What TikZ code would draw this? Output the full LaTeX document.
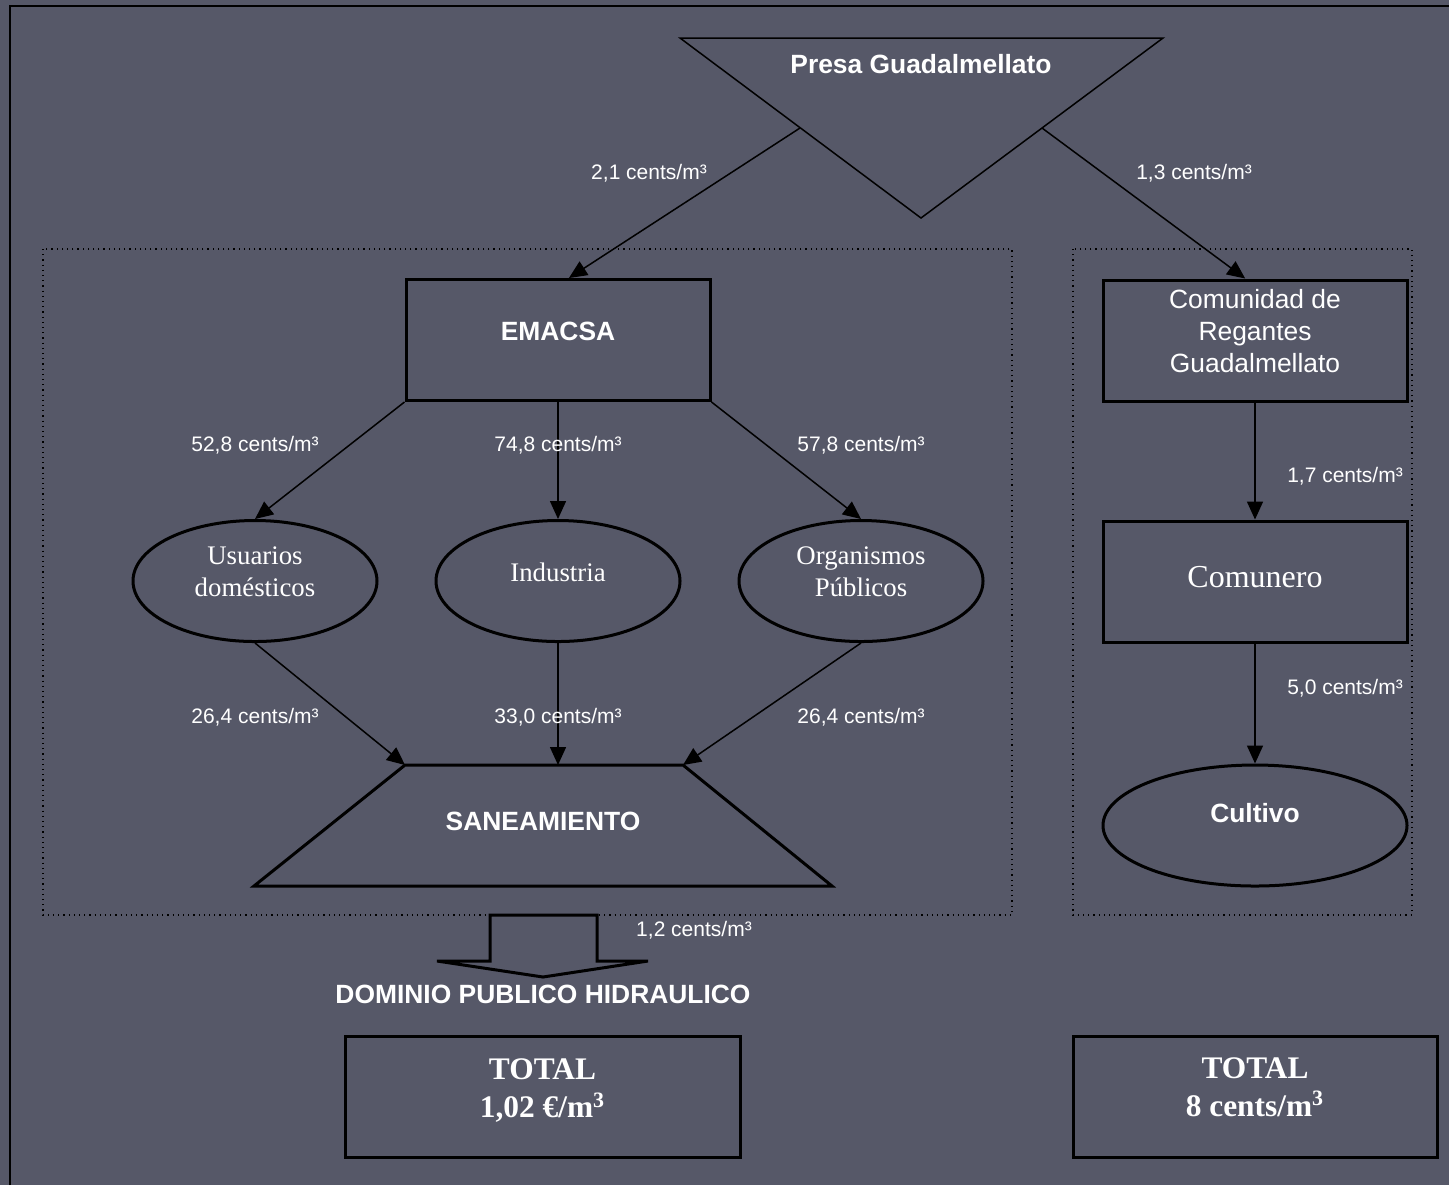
\documentclass[tikz,border=0pt]{standalone}
\usepackage{fontspec}
\setmainfont{Liberation Serif}
\setsansfont{Liberation Sans}
\usetikzlibrary{shapes.geometric,arrows.meta}
\definecolor{slidebg}{RGB}{86,88,104}

\begin{document}
\begin{tikzpicture}
[x=0.5pt,y=-0.5pt,
  boxdecorate/.style={shape=rectangle,draw,line width=1.5pt,inner sep=0pt,minimum height=60.5pt},%
  ellipsedecorate/.style={shape=ellipse,draw,line width=1.5pt,inner sep=0pt,minimum height=60.5pt},%
  linedecorate/.style={-{Triangle[length=9pt,width=8pt]},line width=0.75pt},%
  costlabel/.style={text=white,font=\sffamily\fontsize{10.5}{12}\selectfont},%
  sanstitle/.style={text=white,font=\sffamily\bfseries\fontsize{13.2}{16}\selectfont},%
  sanstext/.style={text=white,align=center,font=\sffamily\fontsize{13.2}{16}\selectfont},%
  seriftext/.style={text=white,align=center,font=\rmfamily\fontsize{13.4}{16}\selectfont},%
  totaltext/.style={text=white,align=center,font=\rmfamily\bfseries\fontsize{15.7}{19}\selectfont}]
\useasboundingbox (0,0) rectangle (1449,1185);
\fill[slidebg] (0,0) rectangle (1449,1185);
\draw[line width=1.25pt] (10,1185) -- (10,6) -- (1449,6);
%% dotted groups
\draw[dotted,line width=0.6pt] (43,249) rectangle (1012,915);
\draw[dotted,line width=0.6pt] (1073,249) rectangle (1412,915);
%% dam
\coordinate (presa-nw) at (680,38);
\coordinate (presa-ne) at (1163,38);
\coordinate (presa-s) at (921,218);
\coordinate (presa-out1) at (800,128);
\coordinate (presa-out2) at (1042,128);
\draw[line width=0.75pt] (presa-nw) -- (presa-ne) -- (presa-s) -- cycle;
\node (presa) at (921,64) [sanstitle] {Presa Guadalmellato};
%% boxes
\foreach \nodename/\x/\y/\boxw in {emacsa/558/340/152, comunidad/1255/340.5/152,
  comunero/1255/581.5/152, totaleuro/542.5/1097/197.5, totalcents/1255/1097/182} {
  \node (\nodename) at (\x,\y) [boxdecorate,minimum width=\boxw pt] {};
}
%% ellipses
\foreach \nodename/\x/\y/\boxw in {usuarios/255/581/122, industria/558/581/122,
  organismos/861/581/122, cultivo/1255/825.5/152} {
  \node (\nodename) at (\x,\y) [ellipsedecorate,minimum width=\boxw pt] {};
}
%% sewage trapezoid
\foreach \ptname/\x/\y in {san-tl/405/765, san-tr/683/765, san-br/832/886, san-bl/254/886} {
  \coordinate (\ptname) at (\x,\y);
}
\draw[line width=1.5pt] (san-tl) -- (san-tr) -- (san-br) -- (san-bl) -- cycle;
\node (saneamiento) at (543,821) [sanstitle] {SANEAMIENTO};
%% texts in the shapes
\node (emacsa-text) at ([yshift=4.5pt]emacsa.center) [sanstitle] {EMACSA};
\node (comunidad-text) at ([yshift=4.5pt]comunidad.center) [sanstext] {Comunidad de\\Regantes\\Guadalmellato};
\node (comunero-text) at ([yshift=2pt]comunero.center) [seriftext,font=\rmfamily\fontsize{16}{19}\selectfont] {Comunero};
\node (usuarios-text) at ([yshift=4.5pt]usuarios.center) [seriftext] {Usuarios\\domésticos};
\node (industria-text) at ([yshift=4.5pt]industria.center) [seriftext] {Industria};
\node (organismos-text) at ([yshift=4.5pt]organismos.center) [seriftext] {Organismos\\Públicos};
\node (cultivo-text) at ([yshift=6pt]cultivo.center) [sanstitle] {Cultivo};
\node (totaleuro-text) at ([yshift=3pt]totaleuro.center) [totaltext] {TOTAL\\1,02 €/m\textsuperscript{3}};
\node (totalcents-text) at ([yshift=5pt]totalcents.center) [totaltext] {TOTAL\\8 cents/m\textsuperscript{3}};
%% outflow arrow
\foreach \ptname/\x/\y in {out-a/490/915, out-b/490/961, out-c/437/961, out-tip/543/977,
  out-d/648/961, out-e/597/961, out-f/597/915} {
  \coordinate (\ptname) at (\x,\y);
}
\draw[line width=1.5pt] (out-a) -- (out-b) -- (out-c) -- (out-tip) -- (out-d) -- (out-e) -- (out-f) -- cycle;
\node (dominio) at (543,994) [sanstitle] {DOMINIO PUBLICO HIDRAULICO};
%% edges or lines
\path
\foreach \startnode/\endnode in {presa-out1/emacsa.80, presa-out2/comunidad.99,
  emacsa.south west/usuarios.north, emacsa.south/industria.north,
  emacsa.south east/organismos.north, comunidad/comunero, comunero/cultivo,
  usuarios.south/san-tl, organismos.south/san-tr} {
  (\startnode) edge[linedecorate] (\endnode)
};
\draw[linedecorate] (industria.south) -- (industria.south |- san-tl);
%% costs
\foreach \cost/\x/\y [count=\i] in {{2,1}/649/173, {1,3}/1194/173, {52,8}/255/445,
  {74,8}/558/445, {57,8}/861/445, {1,7}/1345/476, {26,4}/255/717, {33,0}/558/717,
  {26,4}/861/717, {5,0}/1345/688, {1,2}/694/930} {
  \node (cost\i) at (\x,\y) [costlabel] {\cost{} cents/m³};
}
\end{tikzpicture}
\end{document}
